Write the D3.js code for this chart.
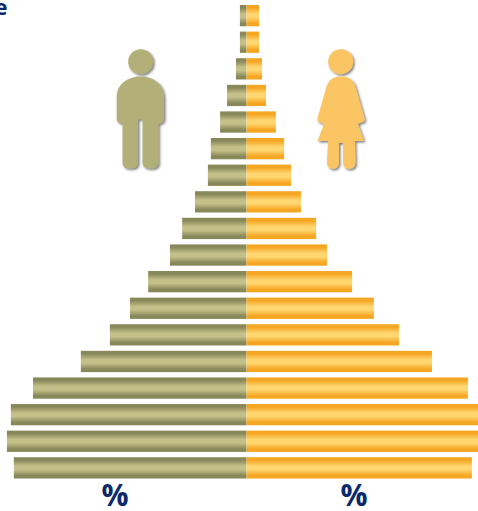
<!DOCTYPE html>
<html>
<head>
<meta charset="utf-8">
<script src="https://cdn.jsdelivr.net/npm/d3@7"></script>
<style>
  html, body { margin: 0; padding: 0; background: #fff; overflow: hidden; }
  text { font-family: "Open Sans", sans-serif; font-weight: 700; fill: #0b2a6b; }
</style>
</head>
<body>
<div id="chart"></div>
<script>
// top to bottom, oldest group first
const ageGroups = ['85+', '80', '75', '70', '65', '60', '55', '50', '45', '40', '35', '30', '25', '20', '15', '10', '5', '0'];
const male = [0.2, 0.2, 0.32, 0.59, 0.8, 1.08, 1.17, 1.56, 1.95, 2.32, 2.98, 3.53, 4.14, 5.02, 6.47, 7.14, 7.26, 7.05];
const female = [0.38, 0.38, 0.47, 0.59, 0.89, 1.14, 1.35, 1.65, 2.11, 2.44, 3.2, 3.86, 4.62, 5.62, 6.71, 7.1, 7.2, 6.83];
const axisLabels = ['%', '%'];

const width = 478;
const height = 511;
const center = 246.5;

const svg = d3.select('#chart').append('svg')
  .attr('width', width)
  .attr('height', height);

const defs = svg.append('defs');

// bar gradients, edges stay dark for a while before the light middle
function barGradient(id, edge, mid) {
  const g = defs.append('linearGradient')
    .attr('id', id)
    .attr('x1', 0).attr('y1', 0)
    .attr('x2', 0).attr('y2', 1);
  [[0, edge], [14, edge], [42, mid], [58, mid], [86, edge], [100, edge]].forEach((s) => {
    g.append('stop').attr('offset', `${s[0]}%`).attr('stop-color', s[1]);
  });
}
barGradient('barMale', '#88885a', '#c4c08a');
barGradient('barFemale', '#f5a623', '#ffd670');

const shadow = defs.append('filter')
  .attr('id', 'iconShadow')
  .attr('x', '-20%').attr('y', '-20%')
  .attr('width', '140%').attr('height', '140%');
shadow.append('feDropShadow')
  .attr('dx', 1.5).attr('dy', 1.5)
  .attr('stdDeviation', 0.8)
  .attr('flood-color', '#444')
  .attr('flood-opacity', 0.7);

// scales
const y = d3.scaleBand()
  .domain(ageGroups)
  .range([5, 478.5])
  .paddingInner(0.2)
  .paddingOuter(0);

const x = d3.scaleLinear()
  .domain([0, 7.5])
  .range([0, 247.5]);

// bars
svg.append('g').selectAll('rect')
  .data(male)
  .enter()
  .append('rect')
  .attr('x', (d) => center - x(d))
  .attr('y', (d, i) => y(ageGroups[i]))
  .attr('width', (d) => x(d))
  .attr('height', y.bandwidth())
  .attr('fill', 'url(#barMale)');

svg.append('g').selectAll('rect')
  .data(female)
  .enter()
  .append('rect')
  .attr('x', center)
  .attr('y', (d, i) => y(ageGroups[i]))
  .attr('width', (d) => x(d))
  .attr('height', y.bandwidth())
  .attr('fill', 'url(#barFemale)');

// icons
const manIcon = svg.append('g').attr('fill', '#b3af78').attr('filter', 'url(#iconShadow)');
manIcon.append('circle').attr('cx', 140.7).attr('cy', 61.7).attr('r', 12.5);
manIcon.append('path').attr('d',
  'M140.7 76.5 C128 76.5 116.7 84 116.7 97 L116.7 119 Q116.7 123 122.5 124 L122.5 163 Q122.5 168.5 130 168.5 Q138 168.5 138 163 L138 121 Q138 119 140 119 Q142.5 119 142.5 121 L142.5 163 Q142.5 168.5 150.5 168.5 Q158.5 168.5 158.5 163 L158.5 124 Q164 123 164 119 L164 97 C164 84 153 76.5 140.7 76.5 Z');

const womanIcon = svg.append('g').attr('fill', '#fbc563').attr('filter', 'url(#iconShadow)');
womanIcon.append('circle').attr('cx', 340.7).attr('cy', 61.7).attr('r', 12.5);
womanIcon.append('path').attr('d',
  'M341 76.5 C331 76.5 327 82 325 92 L317.5 118 Q316.5 122 320.5 122.5 L324 124 L317.5 141 L328 141 L327 162 Q327 169 333 169 Q339 169 339 162 L339 143 L343 143 L343 162 Q343 169 349.5 169 Q355.5 169 355.5 162 L355 141 L364 141 L358 124 L361.5 122.5 Q365.5 122 364.5 118 L357 92 C355 82 351 76.5 341 76.5 Z');

// axis labels
svg.append('g').selectAll('text')
  .data(axisLabels)
  .enter()
  .append('text')
  .attr('x', (d, i) => [115, 354][i])
  .attr('y', 506)
  .attr('text-anchor', 'middle')
  .attr('font-size', 30)
  .text((d) => d);

// title is cut off by the left edge, only its last letter shows
svg.append('text')
  .attr('x', 7.5)
  .attr('y', 15)
  .attr('text-anchor', 'end')
  .attr('font-size', 21)
  .text('e');
</script>
</body>
</html>
